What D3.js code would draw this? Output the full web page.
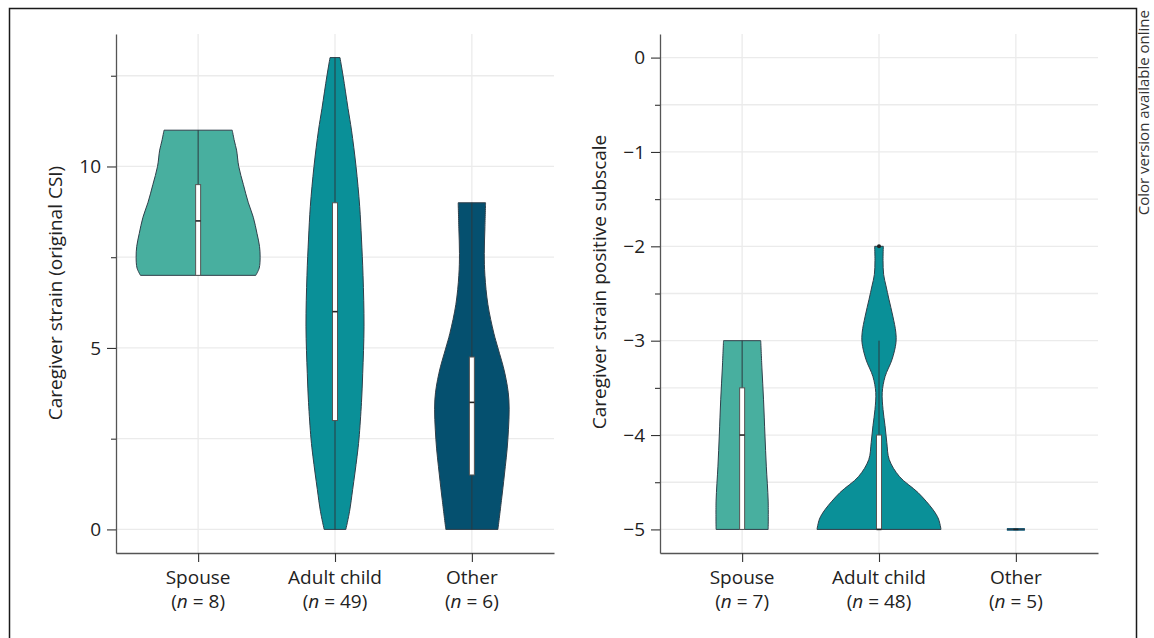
<!DOCTYPE html>
<html><head><meta charset="utf-8">
<script src="https://cdn.jsdelivr.net/npm/d3@7"></script>
<style>
html,body{margin:0;padding:0;background:#fff;}
svg{display:block;font-family:"Open Sans","Noto Sans",sans-serif;}
</style></head>
<body>
<svg id="chart" width="1154" height="638"></svg>
<script>
// ---------- data ----------
const categories = ["Spouse", "Adult child", "Other"];
const colors = ["#48AF9F", "#0A9098", "#05506F"];

const leftN = [8, 49, 6];
const rightN = [7, 48, 5];

const leftTitle = "Caregiver strain (original CSI)";
const rightTitle = "Caregiver strain positive subscale";

const leftDomain = [-0.65, 13.65];
const rightDomain = [-5.25, 0.25];

const leftTicks = [0, 5, 10];
const leftMinorTicks = [2.5, 7.5, 12.5];
const rightTicks = [0, -1, -2, -3, -4, -5];
const rightMinorTicks = [-0.5, -1.5, -2.5, -3.5, -4.5];

// violin density profiles: [value, relative density]
const leftSpouseDensity = [[7,0.93],[7.2,0.985],[7.5,1.0],[7.8,0.99],[8.15,0.95],[8.6,0.89],[9.0,0.81],[9.5,0.73],[10,0.655],[10.45,0.62],[10.7,0.585],[11,0.55]];
const leftChildDensity = [[0,0.175],[0.5,0.235],[1.1,0.285],[2,0.355],[2.5,0.387],[3.5,0.427],[4.3,0.447],[5.6,0.468],[7,0.452],[8,0.427],[8.9,0.398],[10,0.339],[11,0.266],[11.6,0.21],[12.5,0.13],[13,0.08]];
const leftOtherDensity = [[0,0.42],[0.8,0.477],[1.5,0.524],[2.47,0.58],[3.57,0.597],[4.3,0.532],[5.0,0.42],[5.4,0.355],[6.2,0.258],[7,0.21],[7.6,0.2],[8.3,0.21],[9,0.221]];

const rightSpouseDensity = [[-5,0.42],[-4.7,0.42],[-4.33,0.39],[-4,0.368],[-3.62,0.345],[-3.3,0.32],[-3,0.30]];
const rightChildDensity = [[-5,1.0],[-4.89,0.96],[-4.79,0.87],[-4.61,0.63],[-4.44,0.33],[-4.26,0.165],[-4.08,0.126],[-3.9,0.097],[-3.73,0.065],[-3.55,0.052],[-3.38,0.098],[-3.2,0.21],[-3.02,0.274],[-2.91,0.271],[-2.74,0.223],[-2.56,0.16],[-2.42,0.113],[-2.3,0.075],[-2.15,0.065],[-2,0.07]];
const rightOtherDensity = [[-5,0.145]];

// box stats: [whisker low, q1, median, q3, whisker high]
const leftBoxes = [[7,7,8.5,9.5,11],[0,3,6,9,13],[0,1.5,3.5,4.75,9]];
const rightBoxes = [[-5,-5,-4,-3.5,-3],[-5,-5,-5,-4,-3],[-5,-5,-5,-5,-5]];
const rightOutliers = [[], [-2], []];
const leftOutliers = [[], [], []];

const footnote = "Color version available online";

// ---------- drawing ----------
const svg = d3.select("#chart");
const plotTop = 34, plotBottom = 553;
const widthScale = d3.scaleLinear().domain([0, 1]).range([0, 62]);
const FS = 19;

// frame
svg.append("path")
  .attr("d", "M9.5,640 L9.5,8.5 L1136.5,8.5 L1136.5,640")
  .attr("fill", "none").attr("stroke", "#1a1a1a").attr("stroke-width", 1.5);

svg.append("text")
  .attr("transform", "translate(1149,10) rotate(-90)")
  .attr("text-anchor", "end")
  .attr("font-size", 15).attr("fill", "#333")
  .text(footnote);

function panel(cfg) {
  const g = svg.append("g");
  const x = d3.scalePoint().domain(categories).range([cfg.x0, cfg.x1]).padding(0.6);
  const y = d3.scaleLinear().domain(cfg.domain).range([plotBottom, plotTop]);

  // grid
  const allTicks = cfg.ticks.concat(cfg.minor);
  g.selectAll(".hgrid").data(allTicks).join("line")
    .attr("x1", cfg.x0).attr("x2", cfg.x1)
    .attr("y1", d => y(d)).attr("y2", d => y(d))
    .attr("stroke", "#ebebeb").attr("stroke-width", 1.3);
  g.selectAll(".vgrid").data(categories).join("line")
    .attr("x1", d => x(d)).attr("x2", d => x(d))
    .attr("y1", plotTop).attr("y2", plotBottom)
    .attr("stroke", "#ebebeb").attr("stroke-width", 1.3);

  // violins
  cfg.densities.forEach((dens, i) => {
    const cx = x(categories[i]);
    if (dens.length === 1) {
      const hw = widthScale(dens[0][1]);
      g.append("line")
        .attr("x1", cx - hw).attr("x2", cx + hw)
        .attr("y1", y(dens[0][0])).attr("y2", y(dens[0][0]))
        .attr("stroke", colors[i]).attr("stroke-width", 2.6);
      g.append("line")
        .attr("x1", cx - hw).attr("x2", cx + hw)
        .attr("y1", y(dens[0][0])).attr("y2", y(dens[0][0]))
        .attr("stroke", "#2d3d4a").attr("stroke-width", 1.2).attr("opacity", 0.8);
      return;
    }
    const area = d3.area()
      .curve(d3.curveCatmullRom.alpha(0.5))
      .y(d => y(d[0]))
      .x0(d => cx - widthScale(d[1]))
      .x1(d => cx + widthScale(d[1]));
    g.append("path").datum(dens)
      .attr("d", area)
      .attr("fill", colors[i])
      .attr("stroke", "#2f3f4a").attr("stroke-width", 1);
  });

  // inner boxes
  cfg.boxes.forEach((b, i) => {
    const cx = x(categories[i]);
    const [lo, q1, med, q3, hi] = b;
    if (hi > lo) {
      g.append("line").attr("x1", cx).attr("x2", cx)
        .attr("y1", y(hi)).attr("y2", y(lo))
        .attr("stroke", "#2b3a40").attr("stroke-width", 1);
    }
    if (q3 > q1) {
      g.append("rect")
        .attr("x", cx - 2.5).attr("width", 5)
        .attr("y", y(q3)).attr("height", y(q1) - y(q3))
        .attr("fill", "#ffffff").attr("stroke", "#555").attr("stroke-width", 1);
    }
    g.append("line").attr("x1", cx - 2.5).attr("x2", cx + 2.5)
      .attr("y1", y(med)).attr("y2", y(med))
      .attr("stroke", "#222").attr("stroke-width", 1.6);
    cfg.outliers[i].forEach(o => {
      g.append("circle").attr("cx", cx).attr("cy", y(o)).attr("r", 2)
        .attr("fill", "#222");
    });
  });

  // axes
  const fmt = d => (d < 0 ? "\u2212" + Math.abs(d) : String(d));
  const yAxis = g.append("g").attr("transform", `translate(${cfg.x0},0)`)
    .call(d3.axisLeft(y).tickValues(cfg.ticks).tickFormat(fmt).tickSize(9).tickSizeOuter(0).tickPadding(6));
  const yMinor = g.append("g").attr("transform", `translate(${cfg.x0},0)`)
    .call(d3.axisLeft(y).tickValues(cfg.minor).tickFormat("").tickSize(5).tickSizeOuter(0));
  yMinor.select(".domain").remove();
  const xAxis = g.append("g").attr("transform", `translate(0,${plotBottom})`)
    .call(d3.axisBottom(x).tickSize(9).tickSizeOuter(0).tickFormat(""));
  [yAxis, yMinor, xAxis].forEach(a => {
    a.selectAll(".domain").attr("stroke", "#555").attr("stroke-width", 1.3);
    a.selectAll(".tick line").attr("stroke", "#333").attr("stroke-width", 1.1);
  });
  yAxis.selectAll(".tick text").attr("font-size", FS).attr("fill", "#222")
    .attr("font-family", "'Open Sans','Noto Sans',sans-serif");

  // category labels
  categories.forEach((c, i) => {
    const t = g.append("text").attr("x", x(c)).attr("y", 584)
      .attr("text-anchor", "middle").attr("font-size", FS).attr("fill", "#222");
    t.text(c);
    const t2 = g.append("text").attr("x", x(c)).attr("y", 608)
      .attr("text-anchor", "middle").attr("font-size", FS).attr("fill", "#222");
    t2.append("tspan").text("(");
    t2.append("tspan").attr("font-style", "italic").text("n");
    t2.append("tspan").text(" = " + cfg.n[i] + ")");
  });

  // y title
  g.append("text")
    .attr("transform", `translate(${cfg.titleX},${cfg.titleY}) rotate(-90)`)
    .attr("text-anchor", "middle").attr("font-size", FS).attr("fill", "#222")
    .text(cfg.title);
}

panel({x0: 116, x1: 554, domain: leftDomain, ticks: leftTicks, minor: leftMinorTicks,
  densities: [leftSpouseDensity, leftChildDensity, leftOtherDensity],
  boxes: leftBoxes, outliers: leftOutliers, n: leftN, title: leftTitle, titleX: 62, titleY: 293});
panel({x0: 660, x1: 1098, domain: rightDomain, ticks: rightTicks, minor: rightMinorTicks,
  densities: [rightSpouseDensity, rightChildDensity, rightOtherDensity],
  boxes: rightBoxes, outliers: rightOutliers, n: rightN, title: rightTitle, titleX: 606, titleY: 282});
</script>
</body></html>
